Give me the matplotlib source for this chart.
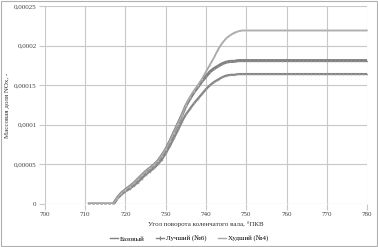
import matplotlib
matplotlib.use("Agg")
import matplotlib.pyplot as plt
from matplotlib.lines import Line2D
from matplotlib.ticker import FuncFormatter

# ---- data ----
angle = list(range(711, 781))

common = [0, 0, 0, 0, 0, 0, 0,                       # 711..717
          0.000008, 0.000014, 0.000018, 0.000022, 0.000026,  # 718..722
          0.000031, 0.000036, 0.000041, 0.000045, 0.000049,  # 723..727
          0.000054, 0.000061, 0.000069, 0.000079, 0.000090,  # 728..732
          0.000101, 0.000112]                                # 733..734

base_tail = [0.000124, 0.000133, 0.000141, 0.000148, 0.000155,   # 735..739
             0.000161, 0.000167, 0.000171, 0.000174, 0.000177,   # 740..744
             0.000179, 0.000180, 0.000180, 0.000181, 0.000181]   # 745..749
best_head = [0, 0, 0, 0, 0, 0, 0,
             0.000007, 0.000012, 0.000016, 0.000019, 0.000023,
             0.000027, 0.000032, 0.000037, 0.000041, 0.000045,
             0.000050, 0.000056, 0.000064, 0.000073, 0.000083,
             0.000093, 0.000104]
best_tail = [0.000113, 0.000120, 0.000127, 0.000133, 0.000139,
             0.000145, 0.000150, 0.000154, 0.000157, 0.000160,
             0.000162, 0.000163, 0.000163, 0.000164, 0.000164]
worst_tail = [0.000125, 0.000135, 0.000143, 0.000150, 0.000158,
              0.000167, 0.000176, 0.000185, 0.000195, 0.000203,
              0.000209, 0.000213, 0.000216, 0.000218, 0.000219]

base = common + base_tail + [0.000181] * 31
best = best_head + best_tail + [0.000164] * 31
worst = common + worst_tail + [0.000219] * 31

labels = ["Базовый", "Лучший (№6)", "Худший (№4)"]
colors = ["#808080", "#858585", "#a8a8a8"]

# ---- plot ----
plt.rcParams["font.family"] = ["Liberation Serif", "DejaVu Serif"]

fig = plt.figure(figsize=(3.78, 2.47), dpi=100)
ax = fig.add_axes([0.119, 0.174, 0.852, 0.802])

ax.plot(angle, base, color=colors[0], lw=2.2, marker="+", ms=1.8, mew=0.4,
        mec="#9a9a9a", zorder=3)
ax.plot(angle, best, color=colors[1], lw=1.6, marker="+", ms=1.8, mew=0.4,
        mec="#a0a0a0", zorder=3)
ax.plot(angle, worst, color=colors[2], lw=1.3, marker="+", ms=1.8, mew=0.4,
        mec="#bcbcbc", zorder=3)

ax.set_xlim(700, 780)
ax.set_ylim(0, 0.00025)
ax.set_xticks(range(700, 781, 10))
ax.set_yticks([0, 0.00005, 0.0001, 0.00015, 0.0002, 0.00025])
ax.yaxis.set_major_formatter(FuncFormatter(
    lambda v, p: "0" if v == 0 else f"{v:.5f}".rstrip("0").replace(".", ",")))

ax.grid(True, color="#c8c8c8", lw=0.8)
for s in ax.spines.values():
    s.set_visible(False)
ax.tick_params(axis="both", length=4, width=0.8, color="#c8c8c8",
               labelsize=5, labelcolor="#404040", pad=2)

ax.set_xlabel("Угол поворота коленчатого вала, °ПКВ", fontsize=5,
              color="#303030", labelpad=3)
ax.set_ylabel("Массовая доля NOx, -", fontsize=5, color="#303030",
              labelpad=3)

# legend handles: thin lines, the middle one with a small marker
handles = [Line2D([], [], color=colors[0], lw=1.0),
           Line2D([], [], color=colors[1], lw=1.0, marker="+", ms=3, mew=0.8),
           Line2D([], [], color=colors[2], lw=1.0)]
fig.legend(handles, labels, loc="lower center", ncol=3, frameon=False,
           fontsize=5, bbox_to_anchor=(0.5, -0.005), handlelength=1.2,
           columnspacing=1.6, handletextpad=0.3)

fig.patches.append(plt.Rectangle((0.002, 0.003), 0.995, 0.993,
                                 transform=fig.transFigure, fill=False,
                                 edgecolor="#b0b0b0", lw=0.8))

fig.savefig("out.png", dpi=100)
